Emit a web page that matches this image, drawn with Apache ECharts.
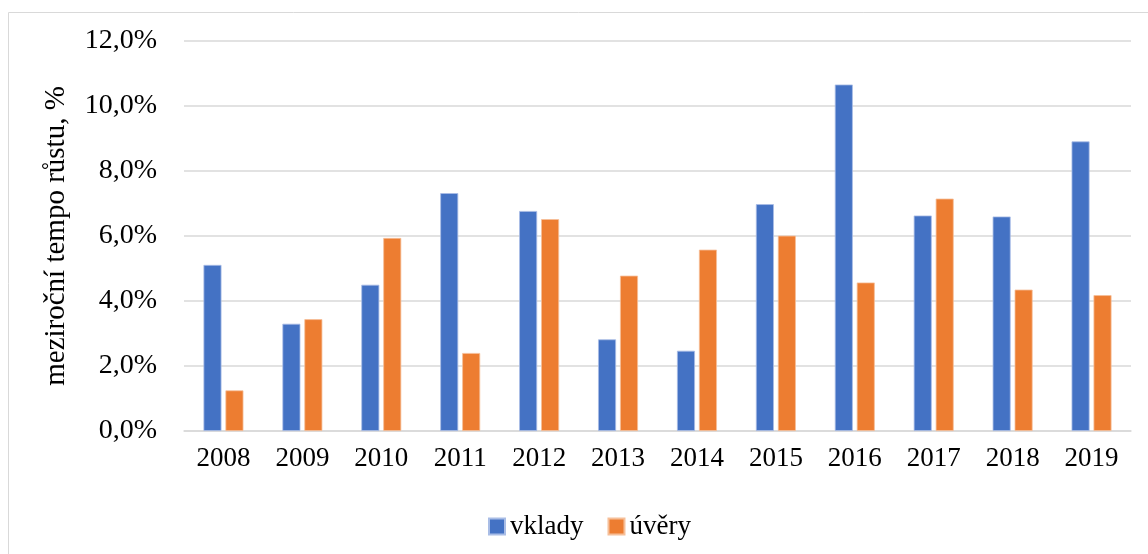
<!DOCTYPE html>
<html>
<head>
<meta charset="utf-8">
<script src="https://cdn.jsdelivr.net/npm/echarts@6/dist/echarts.min.js"></script>
<style>
  html, body { margin: 0; padding: 0; background: #fff; }
  #chart { width: 1148px; height: 554px; }
</style>
</head>
<body>
<div id="chart"></div>
<script>
  // roky a meziroční tempa růstu (%)
  const years = ['2008', '2009', '2010', '2011', '2012', '2013', '2014', '2015', '2016', '2017', '2018', '2019']
  const vklady = [5.11, 3.30, 4.50, 7.32, 6.77, 2.82, 2.47, 6.98, 10.66, 6.63, 6.60, 8.91]
  const uvery = [1.25, 3.44, 5.94, 2.40, 6.52, 4.78, 5.58, 6.01, 4.57, 7.15, 4.35, 4.18]

  const font = '"Liberation Serif", "Times New Roman", serif'
  const chart = echarts.init(document.getElementById('chart'))

  chart.setOption({
    animation: false,
    textStyle: { fontFamily: font },
    graphic: [
      { type: 'line', shape: { x1: 8.5, y1: 12.5, x2: 1148, y2: 12.5 }, style: { stroke: '#d9d9d9', lineWidth: 1 } },
      { type: 'line', shape: { x1: 8.5, y1: 12.5, x2: 8.5, y2: 554 }, style: { stroke: '#d9d9d9', lineWidth: 1 } },
    ],
    grid: {
      left: 184,
      right: 17,
      top: 41,
      bottom: 123,
    },
    legend: {
      left: 483,
      top: 508,
      itemWidth: 16,
      itemHeight: 16,
      itemGap: 24,
      icon: 'rect',
      textStyle: { fontFamily: font, fontSize: 27, color: '#000' },
      data: ['vklady', 'úvěry'],
    },
    xAxis: {
      type: 'category',
      data: years,
      axisLine: { lineStyle: { color: '#d9d9d9', width: 1.5 } },
      axisTick: { show: false },
      axisLabel: { fontFamily: font, fontSize: 27, color: '#000', margin: 14 },
    },
    yAxis: {
      type: 'value',
      min: 0,
      max: 12,
      interval: 2,
      name: 'meziroční tempo růstu, %',
      nameLocation: 'middle',
      nameGap: 113,
      nameTextStyle: { fontFamily: font, fontSize: 29, color: '#000' },
      axisLine: { show: false },
      axisTick: { show: false },
      splitLine: { lineStyle: { color: '#d9d9d9', width: 1.5 } },
      axisLabel: {
        fontFamily: font,
        fontSize: 28,
        color: '#000',
        margin: 27,
        formatter: function (v) {
          return v.toFixed(1).replace('.', ',') + '%'
        },
      },
    },
    series: [
      {
        name: 'vklady',
        type: 'bar',
        data: vklady,
        barWidth: 18,
        barGap: '22%',
        itemStyle: { color: '#4472c4', borderColor: '#a9bde6', borderWidth: 0.8 },
      },
      {
        name: 'úvěry',
        type: 'bar',
        data: uvery,
        barWidth: 18,
        itemStyle: { color: '#ed7d31', borderColor: '#f6bf99', borderWidth: 0.8 },
      },
    ],
  })
</script>
</body>
</html>
